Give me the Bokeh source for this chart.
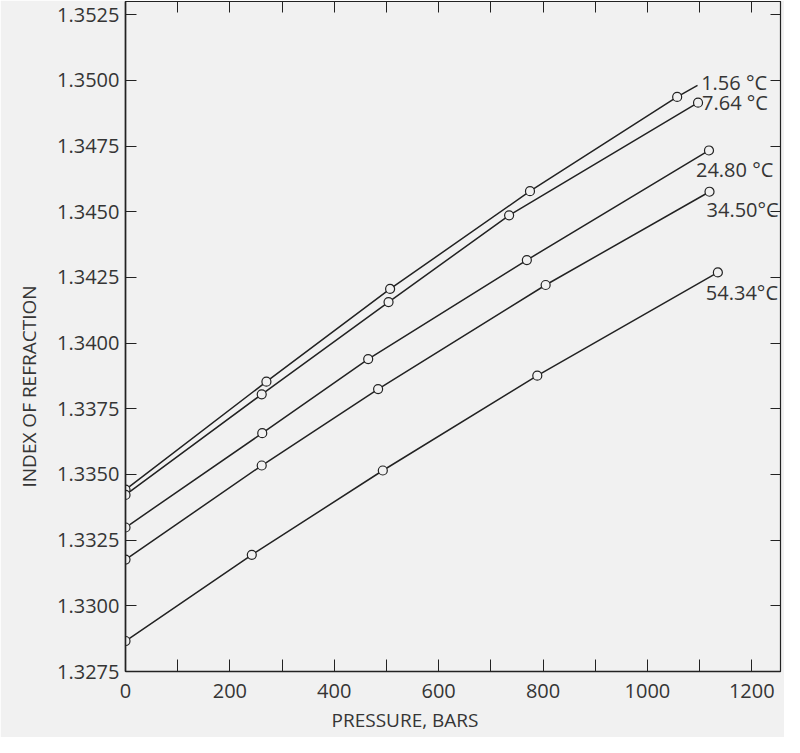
from bokeh.plotting import figure
from bokeh.models import FixedTicker, LinearAxis, Title, Range1d, ColumnDataSource
from bokeh.core.properties import value
from bokeh.embed import file_html
from bokeh.resources import INLINE

# ---- data ----
series_names = ["1.56 \u00b0C", "7.64 \u00b0C", "24.80 \u00b0C", "34.50\u00b0C", "54.34\u00b0C"]

pressure_156 = [0, 270, 507, 775, 1057]
index_156 = [1.33442, 1.33853, 1.34206, 1.34578, 1.34937]
# the 1.56 curve is drawn a little beyond its last measured point
line_end_156_x = [1096]
line_end_156_y = [1.34981]

pressure_764 = [0, 261, 504, 735, 1097]
index_764 = [1.33422, 1.33805, 1.34156, 1.34486, 1.34915]

pressure_2480 = [0, 262, 465, 769, 1118]
index_2480 = [1.33298, 1.33657, 1.33939, 1.34316, 1.34733]

pressure_3450 = [0, 261, 484, 805, 1119]
index_3450 = [1.33176, 1.33534, 1.33825, 1.34221, 1.34576]

pressure_5434 = [0, 242, 493, 789, 1135]
index_5434 = [1.32866, 1.33194, 1.33515, 1.33876, 1.34269]

x_tick_values = [0, 200, 400, 600, 800, 1000, 1200]
x_minor_values = [100, 300, 500, 700, 900, 1100]
y_tick_values = [1.3275, 1.3300, 1.3325, 1.3350, 1.3375, 1.3400,
                 1.3425, 1.3450, 1.3475, 1.3500, 1.3525]
y_tick_labels = ["1.3275", "1.3300", "1.3325", "1.3350", "1.3375", "1.3400",
                 "1.3425", "1.3450", "1.3475", "1.3500", "1.3525"]

x_title = "PRESSURE, BARS"
y_title = "INDEX OF REFRACTION"

# ---- style ----
BG = "#f1f1f1"
INK = "#222222"
TXT = "#353535"
FONT = "Open Sans"

# pixel offsets of the curve labels from each curve's last point
label_dx = [24, 4, -13, -3, -12]
label_dy = [-14, 0, 19, 18, 20]

p = figure(width=784, height=737, output_backend="svg", toolbar_location=None,
           x_range=Range1d(0, 1255), y_range=Range1d(1.3275, 1.3530),
           min_border_left=125, min_border_right=4, min_border_top=1,
           min_border_bottom=65, background_fill_color=BG, border_fill_color=BG)
p.xgrid.visible = False
p.ygrid.visible = False
p.outline_line_color = INK
p.outline_line_width = 1.2

# bottom axis
xa = p.xaxis[0]
xa.ticker = FixedTicker(ticks=x_tick_values, minor_ticks=x_minor_values)
xa.major_tick_in = 12
xa.major_tick_out = 0
xa.minor_tick_in = 12
xa.minor_tick_out = 0
xa.major_tick_line_color = INK
xa.minor_tick_line_color = INK
xa.axis_line_color = INK
xa.axis_line_width = 1.6
xa.major_label_text_font = FONT
xa.major_label_text_font_size = "20px"
xa.major_label_text_color = TXT
xa.major_label_standoff = 12

# left axis
ya = p.yaxis[0]
ya.ticker = FixedTicker(ticks=y_tick_values)
ya.major_label_overrides = {v: s for v, s in zip(y_tick_values, y_tick_labels)}
ya.major_tick_in = 11
ya.major_tick_out = 0
ya.minor_tick_in = 0
ya.minor_tick_out = 0
ya.major_tick_line_color = INK
ya.axis_line_color = INK
ya.axis_line_width = 1.6
ya.major_label_text_font = FONT
ya.major_label_text_font_size = "20px"
ya.major_label_text_color = TXT
ya.major_label_standoff = 6

# top axis (ticks only)
top_ticks = x_tick_values[1:] + x_minor_values
top = LinearAxis(ticker=FixedTicker(ticks=top_ticks))
top.major_label_overrides = {v: "" for v in top_ticks}
top.major_tick_in = 11
top.major_tick_out = 0
top.minor_tick_in = 0
top.minor_tick_out = 0
top.major_label_text_font_size = "1px"
top.major_label_standoff = 0
top.axis_line_color = INK
top.major_tick_line_color = INK
p.add_layout(top, "above")

# right axis (ticks only)
right = LinearAxis(ticker=FixedTicker(ticks=y_tick_values))
right.major_label_overrides = {v: "" for v in y_tick_values}
right.major_tick_in = 10
right.major_tick_out = 0
right.minor_tick_in = 0
right.minor_tick_out = 0
right.major_label_text_font_size = "1px"
right.major_label_standoff = 0
right.axis_line_color = INK
right.major_tick_line_color = INK
p.add_layout(right, "right")

series = [
    (pressure_156 + line_end_156_x, index_156 + line_end_156_y, pressure_156, index_156),
    (pressure_764, index_764, pressure_764, index_764),
    (pressure_2480, index_2480, pressure_2480, index_2480),
    (pressure_3450, index_3450, pressure_3450, index_3450),
    (pressure_5434, index_5434, pressure_5434, index_5434),
]
for lx, ly, mx, my in series:
    p.line(lx, ly, line_color=INK, line_width=1.5)
for lx, ly, mx, my in series:
    p.scatter(mx, my, marker="circle", size=9, fill_color=BG,
              line_color=INK, line_width=1.2)

lab_src = ColumnDataSource(dict(
    x=[s[2][-1] for s in series],
    y=[s[3][-1] for s in series],
    text=series_names,
    dx=label_dx,
    dy=label_dy,
))
p.text(x="x", y="y", text="text", x_offset="dx", y_offset="dy", source=lab_src,
       text_font=value(FONT), text_font_size="20px", text_color=TXT,
       text_align="left", text_baseline="middle")

# axis titles as side titles (they sit off-centre in the reference)
xt = Title(text=x_title, align="left", offset=206, standoff=9,
           text_font=FONT, text_font_size="19px", text_font_style="normal",
           text_color=TXT)
p.add_layout(xt, "below")
yt = Title(text=y_title, align="left", offset=184, standoff=25,
           text_font=FONT, text_font_size="19px", text_font_style="normal",
           text_color=TXT)
p.add_layout(yt, "left")

open("out.html", "w").write(file_html(p, INLINE))
